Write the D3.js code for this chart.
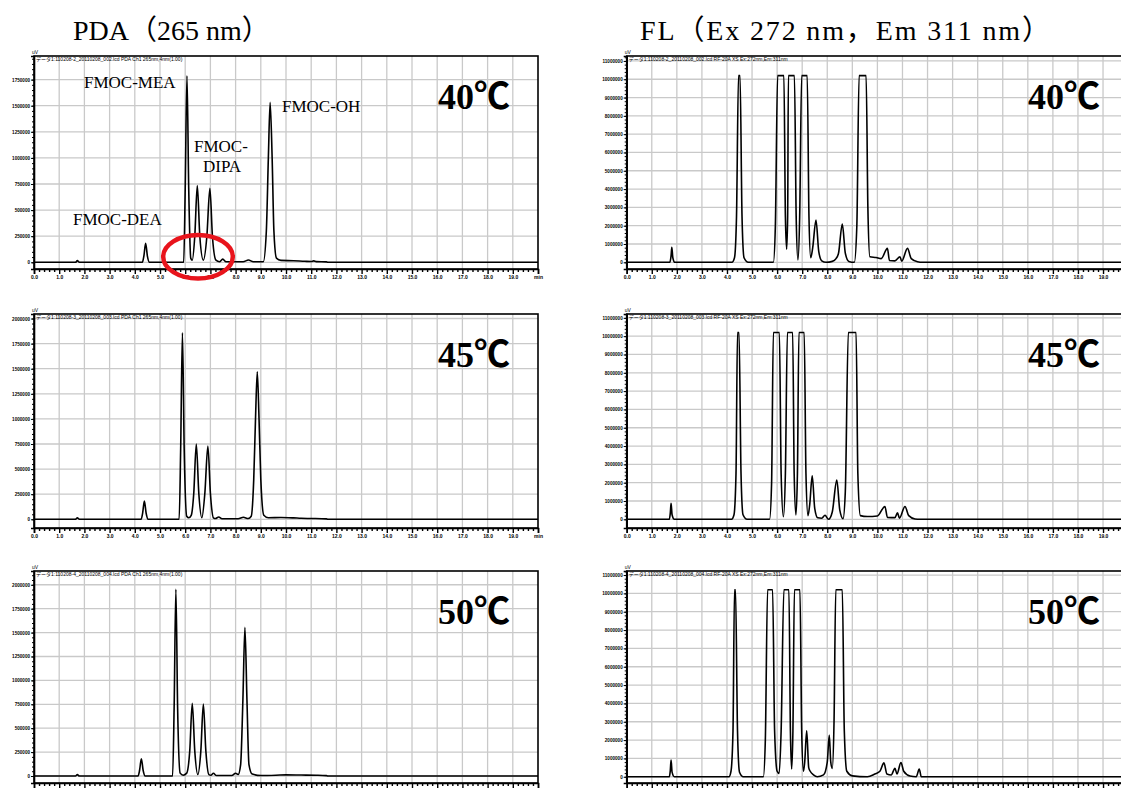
<!DOCTYPE html>
<html>
<head>
<meta charset="utf-8">
<script src="https://cdn.jsdelivr.net/npm/d3@7"></script>
<style>
  body { margin: 0; background: #fff; }
  svg { display: block; }
</style>
</head>
<body>
<div id="chart"></div>
<script>
var svgWidth = 1121;
var svgHeight = 789;

// retention time (min), signal (uV)
var pda40 = [[0,0],[1.65,0],[1.72,16000],[1.8,0],
  [4.3,0],[4.36,60000],[4.43,182000],[4.5,60000],[4.58,0],
  [5.94,0],[6.0,700000],[6.07,1787000],[6.14,700000],[6.22,40000],[6.28,20000],[6.38,250000],[6.48,734000],
  [6.58,250000],[6.72,20000],[6.86,250000],[6.98,709000],[7.08,250000],[7.22,20000],[7.36,5000],[7.49,30000],
  [7.62,5000],[8.3,5000],[8.51,22000],[8.7,5000],[9.1,5000],[9.22,300000],[9.3,1000000],[9.37,1532000],
  [9.45,1000000],[9.52,300000],[9.62,40000],[9.8,18000],[10.3,15000],[10.75,10000],[11.0,8000],[11.1,14000],
  [11.2,6000],[11.6,4000],[11.65,0],[20,0]];

var pda45 = [[0,0],[1.65,0],[1.72,15000],[1.8,0],
  [4.25,0],[4.31,60000],[4.38,182000],[4.45,60000],[4.53,0],
  [5.76,0],[5.82,700000],[5.89,1858000],[5.96,700000],[6.06,30000],[6.14,15000],[6.24,40000],[6.34,260000],
  [6.44,750000],[6.54,260000],[6.66,15000],[6.78,260000],[6.9,730000],[7.0,260000],[7.12,15000],[7.2,8000],
  [7.33,23000],[7.46,5000],[8.1,5000],[8.31,20000],[8.5,8000],[8.62,30000],[8.72,400000],[8.79,1000000],
  [8.86,1470000],[8.93,1000000],[9.0,400000],[9.12,40000],[9.3,15000],[9.8,18000],[10.3,14000],[10.6,10000],
  [11.0,8000],[11.6,4000],[11.65,0],[20,0]];

var pda50 = [[0,0],[1.65,0],[1.72,14000],[1.8,0],
  [4.13,0],[4.19,60000],[4.26,181000],[4.33,60000],[4.41,0],
  [5.5,0],[5.56,700000],[5.63,1953000],[5.7,700000],[5.8,30000],[5.92,8000],[6.06,30000],[6.18,260000],
  [6.28,760000],[6.38,260000],[6.5,15000],[6.62,260000],[6.72,753000],[6.82,260000],[6.94,15000],[7.02,8000],
  [7.12,28000],[7.24,5000],[7.85,5000],[8.0,28000],[8.1,15000],[8.2,120000],[8.29,800000],[8.37,1555000],
  [8.45,800000],[8.53,120000],[8.66,20000],[9.0,5000],[9.6,8000],[10.0,12000],[10.6,10000],[11.2,8000],
  [11.6,4000],[11.65,0],[20,0]];

var fl40 = [[0,0],[1.72,0],[1.77,350000],[1.8,820000],[1.84,250000],[1.92,0],
  [4.2,0],[4.3,250000],[4.38,2500000],[4.46,10200000],[4.52,10200000],[4.6,2500000],[4.68,250000],[4.85,0],
  [5.85,0],[5.93,2000000],[6.02,10200000],[6.27,10200000],[6.33,2500000],[6.38,710000],[6.42,2500000],
  [6.45,10200000],[6.69,10200000],[6.76,2500000],[6.83,130000],[6.9,2500000],[6.98,10200000],[7.2,10200000],
  [7.27,2500000],[7.34,250000],[7.42,800000],[7.55,2310000],[7.66,600000],[7.78,80000],[7.95,0],[8.2,50000],
  [8.35,200000],[8.45,500000],[8.6,2090000],[8.72,500000],[8.86,50000],[9.08,0],[9.18,2000000],[9.27,10200000],
  [9.55,10200000],[9.62,3000000],[9.7,300000],[9.95,260000],[10.15,200000],[10.4,760000],[10.48,100000],
  [10.7,80000],[10.9,300000],[10.97,60000],[11.2,760000],[11.35,200000],[11.6,30000],[11.8,0],[20,0]];

var fl45 = [[0,0],[1.7,0],[1.74,350000],[1.77,870000],[1.81,250000],[1.9,0],
  [4.18,0],[4.28,250000],[4.36,2500000],[4.42,10200000],[4.48,10200000],[4.56,2500000],[4.64,250000],[4.8,0],
  [5.7,0],[5.78,2000000],[5.85,10200000],[6.09,10200000],[6.16,2500000],[6.25,140000],[6.33,2500000],
  [6.41,10200000],[6.62,10200000],[6.68,2500000],[6.75,240000],[6.81,2500000],[6.87,10200000],[7.08,10200000],
  [7.15,2500000],[7.23,200000],[7.3,800000],[7.4,2380000],[7.5,600000],[7.62,80000],[7.78,60000],[7.91,220000],
  [8.05,0],[8.2,400000],[8.38,2140000],[8.5,500000],[8.63,30000],[8.72,1500000],[8.84,10200000],[9.15,10200000],
  [9.22,2500000],[9.32,200000],[9.6,150000],[10.0,180000],[10.3,700000],[10.4,100000],[10.7,90000],
  [10.8,350000],[10.88,60000],[11.1,700000],[11.25,200000],[11.5,20000],[11.7,0],[20,0]];

var fl50 = [[0,0],[1.7,0],[1.74,350000],[1.77,910000],[1.81,250000],[1.9,0],
  [4.08,0],[4.16,300000],[4.24,2500000],[4.3,10200000],[4.34,10200000],[4.42,2500000],[4.5,250000],[4.65,0],
  [5.45,0],[5.53,2000000],[5.62,10200000],[5.82,10200000],[5.9,2500000],[6.0,300000],[6.08,180000],
  [6.16,2500000],[6.27,10200000],[6.47,10200000],[6.53,2500000],[6.58,420000],[6.63,2500000],[6.69,10200000],
  [6.91,10200000],[6.98,2500000],[7.05,300000],[7.1,800000],[7.18,2510000],[7.26,500000],[7.32,300000],
  [7.45,100000],[7.6,0],[7.85,100000],[8.0,800000],[8.08,2270000],[8.14,800000],[8.2,460000],[8.27,3000000],
  [8.34,10200000],[8.6,10200000],[8.68,2500000],[8.78,300000],[9.0,50000],[9.6,0],[9.9,150000],[10.1,300000],
  [10.26,760000],[10.38,150000],[10.55,100000],[10.7,460000],[10.78,150000],[10.94,780000],[11.05,300000],
  [11.3,40000],[11.55,0],[11.67,420000],[11.75,0],[20,0]];

var timeTicks = d3.range(0, 21);
var timeLabels = timeTicks.map(function (t) { return t === 20 ? "min" : t.toFixed(1); });
var pdaTicks40 = [0, 250000, 500000, 750000, 1000000, 1250000, 1500000, 1750000];
var pdaTicks = [0, 250000, 500000, 750000, 1000000, 1250000, 1500000, 1750000, 2000000];
var flTicks = [0, 1000000, 2000000, 3000000, 4000000, 5000000, 6000000, 7000000, 8000000, 9000000, 10000000, 11000000];

var temps = ["40", "45", "50"];
var pdaFiles = ["110208-2_20110208_002", "110208-3_20110208_003", "110208-4_20110208_004"];

var svg = d3.select("#chart")
  .append("svg")
  .attr("width", svgWidth)
  .attr("height", svgHeight)
  .style("background", "#fff");

var rows = [
  { top: 56, bottom: 269 },
  { top: 314, bottom: 528 },
  { top: 571, bottom: 783 }
];

var panels = [
  { col: 0, row: 0, data: pda40, ticks: pdaTicks40, ydom: [-64200, 1976000], minor: 50000 },
  { col: 0, row: 1, data: pda45, ticks: pdaTicks, ydom: [-86700, 2045000], minor: 50000 },
  { col: 0, row: 2, data: pda50, ticks: pdaTicks, ydom: [-73200, 2144000], minor: 50000 },
  { col: 1, row: 0, data: fl40, ticks: flTicks, ydom: [-366000, 11270000], minor: 200000 },
  { col: 1, row: 1, data: fl45, ticks: flTicks, ydom: [-475000, 11210000], minor: 200000 },
  { col: 1, row: 2, data: fl50, ticks: flTicks, ydom: [-340000, 11220000], minor: 200000 }
];

var cols = [
  { left: 34, perMin: 25.2 },
  { left: 626.7, perMin: 25.07 }
];

panels.forEach(function (p) {
  var r = rows[p.row];
  var c = cols[p.col];

  var x = d3.scaleLinear().domain([0, 20]).range([c.left, c.left + 20 * c.perMin]);
  var y = d3.scaleLinear().domain(p.ydom).range([r.bottom, r.top]);

  var g = svg.append("g");

  // grid
  g.append("g").selectAll("line")
    .data(d3.range(1, 20))
    .enter().append("line")
    .attr("x1", d => x(d)).attr("x2", d => x(d))
    .attr("y1", r.top).attr("y2", r.bottom)
    .attr("stroke", "#c9c9c9").attr("stroke-width", 1.3);

  g.append("g").selectAll("line")
    .data(p.ticks)
    .enter().append("line")
    .attr("x1", x(0)).attr("x2", x(20))
    .attr("y1", d => y(d)).attr("y2", d => y(d))
    .attr("stroke", "#c9c9c9").attr("stroke-width", 1.3);

  // frame
  g.append("rect")
    .attr("x", x(0)).attr("y", r.top)
    .attr("width", x(20) - x(0)).attr("height", r.bottom - r.top)
    .attr("fill", "none").attr("stroke", "#000").attr("stroke-width", 1.6);

  // x axis
  var minorX = d3.range(0, 100).map(d => d * 0.2).filter(d => Math.abs(d - Math.round(d)) > 0.01);
  g.append("g")
    .attr("transform", `translate(0, ${r.bottom})`)
    .call(d3.axisBottom(x).tickValues(minorX).tickSize(3).tickFormat(""))
    .call(a => a.select(".domain").remove())
    .selectAll("line").attr("stroke-width", 1.4);

  // labels that fall outside the picture (bottom row, right edge) are left blank, as in the original
  var xAxis = g.append("g")
    .attr("transform", `translate(0, ${r.bottom})`)
    .call(d3.axisBottom(x).tickValues(timeTicks).tickSize(5).tickPadding(1)
      .tickFormat((d, i) => (p.row === 2 || x(d) + 6 > svgWidth) ? "" : timeLabels[i]));
  xAxis.select(".domain").attr("stroke-width", 1.6);
  xAxis.selectAll("line").attr("stroke-width", 1.4);
  xAxis.selectAll("text")
    .style("font-family", "Liberation Sans, Arial, sans-serif")
    .style("font-size", "5px").style("font-weight", "bold");

  // y axis
  var minorY = d3.range(0, p.ydom[1], p.minor);
  g.append("g")
    .attr("transform", `translate(${x(0)}, 0)`)
    .call(d3.axisLeft(y).tickValues(minorY).tickSize(2).tickFormat(""))
    .call(a => a.select(".domain").remove());

  var yAxis = g.append("g")
    .attr("transform", `translate(${x(0)}, 0)`)
    .call(d3.axisLeft(y).tickValues(p.ticks).tickSize(3).tickPadding(1).tickFormat(d => String(d)));
  yAxis.select(".domain").attr("stroke-width", 1.6);
  yAxis.selectAll("text")
    .style("font-family", "Liberation Sans, Arial, sans-serif")
    .style("font-size", "4.6px").style("font-weight", "bold");

  g.append("text")
    .attr("x", x(0) - 2).attr("y", r.top - 2)
    .style("font-family", "Liberation Sans, Arial, sans-serif")
    .style("font-size", "5px")
    .text("uV");

  // file header
  var header = p.col === 0
    ? "データ1:" + pdaFiles[p.row] + ".lcd PDA Ch1 265nm,4nm(1.00)"
    : "データ1:" + pdaFiles[p.row] + ".lcd RF-20A XS Ex:272nm,Em:311nm";
  g.append("text")
    .attr("x", x(0) + 2).attr("y", r.top + 5)
    .style("font-family", "Liberation Sans, Noto Sans CJK JP, sans-serif")
    .style("font-size", "5px")
    .text(header);

  // chromatogram
  var line = d3.line()
    .x(d => x(d[0]))
    .y(d => y(d[1]))
    .curve(d3.curveMonotoneX);

  g.append("path")
    .datum(p.data)
    .attr("d", line)
    .attr("fill", "none")
    .attr("stroke", "#000")
    .attr("stroke-width", 1.6)
    .attr("stroke-linejoin", "round");

  // temperature
  var t = g.append("text")
    .attr("x", p.col === 0 ? 438 : 1028)
    .attr("y", r.top + 53)
    .style("font-size", "36px").style("font-weight", "bold");
  t.append("tspan")
    .style("font-family", "Liberation Serif, serif")
    .text(temps[p.row]);
  t.append("tspan")
    .style("font-family", "Noto Sans CJK JP, sans-serif")
    .text("℃");
});

// titles
svg.append("text")
  .attr("x", 73).attr("y", 40)
  .style("font-family", "Liberation Serif, Noto Sans CJK JP, serif")
  .style("font-size", "28px")
  .text("PDA（265 nm）");

svg.append("text")
  .attr("x", 640).attr("y", 40)
  .attr("textLength", 410)
  .attr("lengthAdjust", "spacing")
  .style("font-family", "Liberation Serif, Noto Sans CJK JP, serif")
  .style("font-size", "28px")
  .text("FL（Ex 272 nm，Em 311 nm）");

// compound labels on the 40 C PDA trace
var compoundLabels = [
  { text: "FMOC-MEA", x: 84, y: 88 },
  { text: "FMOC-OH", x: 282, y: 112 },
  { text: "FMOC-", x: 194, y: 152 },
  { text: "DIPA", x: 203, y: 172 },
  { text: "FMOC-DEA", x: 73, y: 225 }
];
svg.append("g").selectAll("text")
  .data(compoundLabels)
  .enter().append("text")
  .attr("x", d => d.x).attr("y", d => d.y)
  .style("font-family", "Liberation Serif, serif")
  .style("font-size", "17px")
  .text(d => d.text);

// red ellipse marking the DIPA region
svg.append("ellipse")
  .attr("cx", 198).attr("cy", 256.7)
  .attr("rx", 34.8).attr("ry", 21.8)
  .attr("fill", "none")
  .attr("stroke", "#e8141c")
  .attr("stroke-width", 4.5);
</script>
</body>
</html>
